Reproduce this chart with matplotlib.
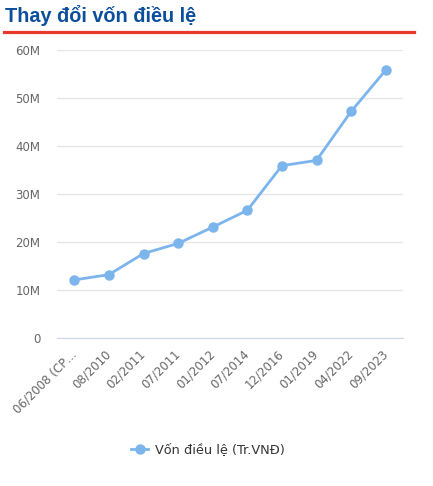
import matplotlib.pyplot as plt
from matplotlib.lines import Line2D
from matplotlib.ticker import FuncFormatter

# Du lieu von dieu le
dates = ['06/2008 (CP…', '08/2010', '02/2011', '07/2011', '01/2012',
         '07/2014', '12/2016', '01/2019', '04/2022', '09/2023']
von = [12.1e6, 13.2e6, 17.6e6, 19.7e6, 23.1e6,
       26.6e6, 35.9e6, 37.0e6, 47.2e6, 55.8e6]
y_ticks = [0, 10e6, 20e6, 30e6, 40e6, 50e6, 60e6]

W, H = 433, 486
fig = plt.figure(figsize=(W / 100, H / 100), dpi=100)

# tieu de + gach do
fig.text(5 / W, 1 - 15 / H, 'Thay đổi vốn điều lệ', fontsize=14.3,
         fontweight='bold', color='#0b4f9c', family='Liberation Sans', va='center')
fig.add_artist(Line2D([4 / W, 414 / W], [1 - 32 / H, 1 - 32 / H],
                      color='#e8392c', linewidth=2.3, transform=fig.transFigure))

ax = fig.add_axes([57 / W, (H - 338) / H, 346 / W, 288 / H])
x = list(range(len(dates)))
ax.plot(x, von, color='#7cb5ec', linewidth=2, marker='o', markersize=6.5,
        label='Vốn điều lệ (Tr.VNĐ)', clip_on=False)

ax.set_xlim(-0.5, len(dates) - 0.5)
ax.set_ylim(0, 60e6)
ax.set_yticks(y_ticks)
ax.yaxis.set_major_formatter(FuncFormatter(lambda v, p: '0' if v == 0 else f'{int(v / 1e6)}M'))
ax.set_xticks(x)
ax.set_xticklabels(dates, rotation=45, ha='right', va='center', rotation_mode='anchor')

ax.grid(axis='y', color='#e6e6e6', linewidth=1)
ax.set_axisbelow(True)
for s in ['top', 'right', 'left']:
    ax.spines[s].set_visible(False)
ax.spines['bottom'].set_color('#ccd6eb')
ax.tick_params(axis='y', length=0, pad=12, labelcolor='#666666', labelsize=8.5)
ax.tick_params(axis='x', length=0, pad=10, labelcolor='#666666', labelsize=8.5)
for lab in ax.get_yticklabels() + ax.get_xticklabels():
    lab.set_family('DejaVu Sans')

fig.legend(handles=[Line2D([], [], color='#7cb5ec', linewidth=2, marker='o', markersize=6.5)],
           labels=['Vốn điều lệ (Tr.VNĐ)'], loc='center', bbox_to_anchor=(208 / W, 1 - 450 / H),
           frameon=False, fontsize=9.3, handlelength=1.3, handletextpad=0.5,
           labelcolor='#333333')

fig.savefig('out.png', dpi=100)
